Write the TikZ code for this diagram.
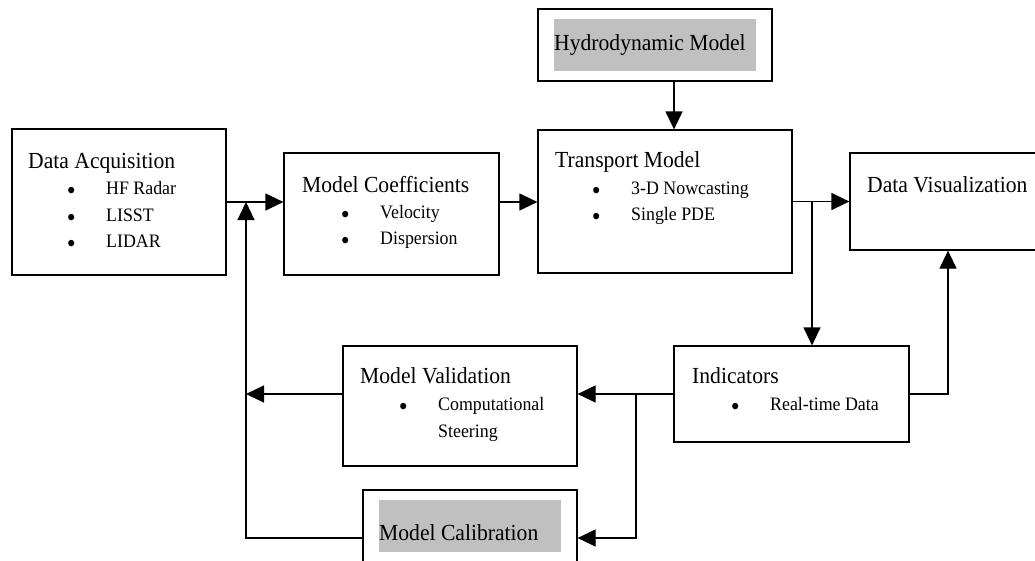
\documentclass[tikz,border=0pt]{standalone}
\usepackage{fontspec}
\setmainfont{Liberation Serif}[FakeStretch=0.94]
\usepackage{tikz}
\usetikzlibrary{arrows.meta,positioning}
\definecolor{hlgray}{RGB}{192,192,192}
\newcommand{\blt}[1][30.5]{\llap{\raisebox{-5.5pt}{\fontsize{27}{27}\selectfont\textbullet}\hspace{#1pt}}}

\begin{document}
\begin{tikzpicture} [
    x = 1pt, y = -1pt,
    inner sep = 0,
    box/.style = { draw, line width = 1.2pt, rectangle },
    head/.style = { anchor = base west, font = \fontsize{23}{26}\selectfont },
    entry/.style = { anchor = base west, font = \fontsize{19}{26}\selectfont },
    shaded/.style = { fill = hlgray, anchor = base west, font = \fontsize{23}{26}\selectfont },
    flow/.style = { line width = 1.2pt, -{Triangle[length=18pt, width=17pt]} }
    ]
    \useasboundingbox (0,0) rectangle (1035,560);

    % boxes
    \node[box, minimum width = 214pt, minimum height = 146pt] (acq) at (119,202) {};
    \node[box, minimum width = 215pt, minimum height = 122pt] (mc) at (391.5,214) {};
    \node[box, minimum width = 254pt, minimum height = 143pt] (tm) at (665,201.5) {};
    \node[box, minimum width = 234pt, minimum height = 72pt] (hydro) at (655,45) {};
    \node[box, minimum width = 196pt, minimum height = 97pt] (dv) at (948,201.5) {};
    \node[box, minimum width = 235pt, minimum height = 96pt] (ind) at (791.5,394) {};
    \node[box, minimum width = 234pt, minimum height = 120pt] (mv) at (460,406) {};
    \node[box, minimum width = 214pt, minimum height = 96pt] (cal) at (470,538) {};

    % texts
    \node[shaded, text height = 31pt, text depth = 21pt] (hydroT) at (554,50) {\makebox[202pt][l]{Hydrodynamic Model}};
    \node[shaded, text height = 40pt, text depth = 12pt] (calT) at (379,540) {\makebox[182pt][l]{Model Calibration}};

    \node[head] (acqT) at (28,168) {Data Acquisition};
    \node[entry] (acq1) at (106,194) {\blt HF Radar};
    \node[entry] (acq2) at (106,221) {\blt LISST};
    \node[entry] (acq3) at (106,247) {\blt LIDAR};

    \node[head] (mcT) at (302,192) {Model Coefficients};
    \node[entry] (mc1) at (380,218) {\blt Velocity};
    \node[entry] (mc2) at (380,244) {\blt Dispersion};

    \node[head] (tmT) at (555,167) {Transport Model};
    \node[entry] (tm1) at (631,194) {\blt 3-D Nowcasting};
    \node[entry] (tm2) at (631,220) {\blt Single PDE};

    \node[head] (dvT) at (867,192) {Data Visualization};

    \node[head] (indT) at (692,383) {Indicators};
    \node[entry] (ind1) at (770,410) {\blt Real-time Data};

    \node[head] (mvT) at (360,383) {Model Validation};
    \node[entry] (mv1) at (438,410) {\blt Computational};
    \node[entry] (mv2) at (438,437) {Steering};

    % connectors
    \coordinate (split) at (812,201.5);
    \coordinate (fork) at (636,394);
    \coordinate (back) at (246,202);

    \draw[flow] (acq.east) -- (acq.east -| mc.west);
    \draw[flow] (mc.east |- acq.east) -- (tm.west |- acq.east);
    \draw[flow] ([xshift=19pt]hydro.south) -- ([xshift=19pt]hydro.south |- tm.north);
    \draw[flow] (tm.east) -- (dv.west);
    \draw[flow] (split) -- (split |- ind.north);
    \draw[flow] (ind.east) -| (dv.south);
    \draw[flow] (ind.west) -- (ind.west -| mv.east);
    \draw[flow] (fork) |- (cal.east);
    \draw[flow] (mv.west |- ind.west) -- (back |- ind.west);
    \draw[flow] (cal.west) -| (back);
\end{tikzpicture}
\end{document}
